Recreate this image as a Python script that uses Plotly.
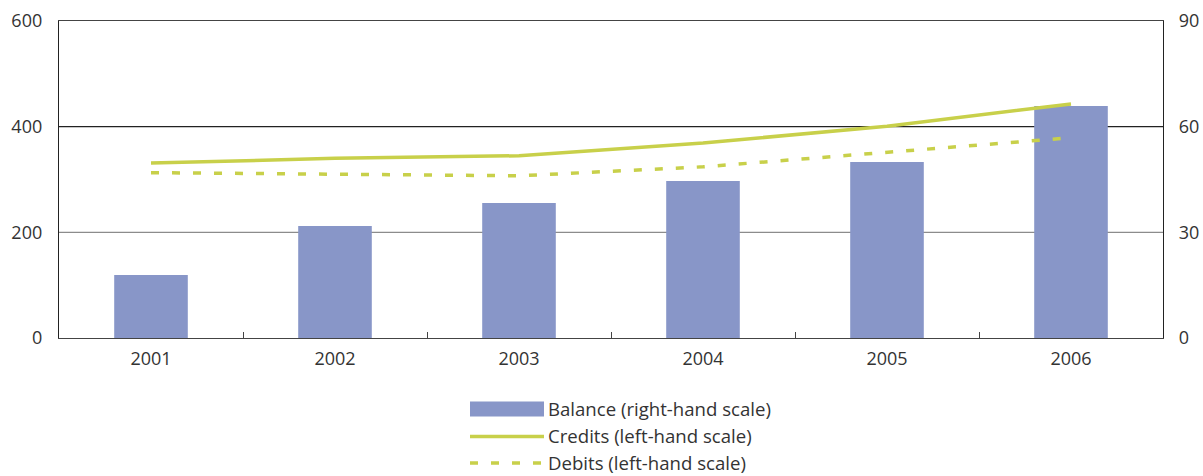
import plotly.graph_objects as go

# Annual figures
years = ["2001", "2002", "2003", "2004", "2005", "2006"]
balance = [17.9, 31.8, 38.3, 44.6, 50.0, 65.9]      # right-hand scale
credits = [331, 340, 345, 369, 401, 443]            # left-hand scale
debits = [313, 310, 307, 324, 352, 379]             # left-hand scale

left_ticks = [0, 200, 400, 600]
right_ticks = [0, 30, 60, 90]

legend_labels = [
    "Balance (right-hand scale)",
    "Credits (left-hand scale)",
    "Debits (left-hand scale)",
]

BAR_COLOR = "#8896C8"
LINE_COLOR = "#C8D04A"
TEXT_COLOR = "#333333"
FONT = "Open Sans"
FSIZE = 18

fig = go.Figure()

# Bars on the right-hand axis (primary y, drawn first so lines sit on top)
fig.add_trace(go.Bar(
    x=years, y=balance, yaxis="y", marker=dict(color=BAR_COLOR, line=dict(width=0)),
    name=legend_labels[0], showlegend=False,
))

# Lines on the left-hand axis (overlaying y2)
fig.add_trace(go.Scatter(
    x=years, y=credits, yaxis="y2", mode="lines",
    line=dict(color=LINE_COLOR, width=3.5), name=legend_labels[1], showlegend=False,
))
fig.add_trace(go.Scatter(
    x=years, y=debits, yaxis="y2", mode="lines",
    line=dict(color=LINE_COLOR, width=3.5, dash="8px,13px"),
    name=legend_labels[2], showlegend=False,
))

# Horizontal reference lines at the inner left-hand ticks
shapes = []
for val, col in [(200, "#8c8c8c"), (400, "#222222")]:
    shapes.append(dict(type="line", xref="paper", x0=0, x1=1, yref="y2", y0=val, y1=val,
                       line=dict(color=col, width=1.3), layer="below"))

# Legend drawn below the plot
leg_x0, leg_x1 = 470, 544
row_y = [409, 436.5, 463]
W, H = 1203, 476
ml, mr, mt, mb = 59, 40, 21, 138
pw, ph = W - ml - mr, H - mt - mb

def px_to_paper(x, y):
    return (x - ml) / pw, (H - mb - y) / ph

ax0, ay = px_to_paper(leg_x0, row_y[0])
ax1, _ = px_to_paper(leg_x1, row_y[0])
_, ay_top = px_to_paper(0, row_y[0] - 7.5)
_, ay_bot = px_to_paper(0, row_y[0] + 7.5)
shapes.append(dict(type="rect", xref="paper", yref="paper", x0=ax0, x1=ax1, y0=ay_bot, y1=ay_top,
                   fillcolor=BAR_COLOR, line=dict(width=0)))
_, cy = px_to_paper(0, row_y[1])
shapes.append(dict(type="line", xref="paper", yref="paper", x0=ax0, x1=ax1, y0=cy, y1=cy,
                   line=dict(color=LINE_COLOR, width=3.5)))
_, dy = px_to_paper(0, row_y[2])
shapes.append(dict(type="line", xref="paper", yref="paper", x0=ax0, x1=ax1, y0=dy, y1=dy,
                   line=dict(color=LINE_COLOR, width=3.5, dash="8px,13px")))

annotations = []
tx, _ = px_to_paper(546, 0)
for lbl, ry in zip(legend_labels, row_y):
    _, yy = px_to_paper(0, ry - 1)
    annotations.append(dict(text=lbl, xref="paper", yref="paper", x=tx, y=yy,
                            xanchor="left", yanchor="middle", showarrow=False,
                            font=dict(family=FONT, size=18.6, color=TEXT_COLOR)))

fig.update_layout(
    width=W, height=H,
    margin=dict(l=ml, r=mr, t=mt, b=mb, autoexpand=False),
    paper_bgcolor="white", plot_bgcolor="white",
    font=dict(family=FONT, size=FSIZE, color=TEXT_COLOR),
    bargap=0.6,
    shapes=shapes,
    annotations=annotations,
    xaxis=dict(
        type="category", showgrid=False, showline=True, linecolor="#444444", linewidth=1.3,
        mirror=True, ticks="inside", tickson="boundaries", ticklen=6, tickcolor="#444444",
        ticklabelstandoff=4, automargin=False,
        tickfont=dict(family=FONT, size=FSIZE, color=TEXT_COLOR),
    ),
    yaxis=dict(
        side="right", range=[0, 90], tickvals=right_ticks, showgrid=False, zeroline=False,
        showline=True, linecolor="#222222", linewidth=1.3, ticks="", ticklabelstandoff=11,
        automargin=False, tickfont=dict(family=FONT, size=FSIZE, color=TEXT_COLOR),
    ),
    yaxis2=dict(
        side="left", overlaying="y", range=[0, 600], tickvals=left_ticks, showgrid=False,
        zeroline=False, showline=True, linecolor="#222222", linewidth=1.3, ticks="",
        ticklabelstandoff=12, automargin=False,
        tickfont=dict(family=FONT, size=FSIZE, color=TEXT_COLOR),
    ),
)

fig.write_html("out.html")
